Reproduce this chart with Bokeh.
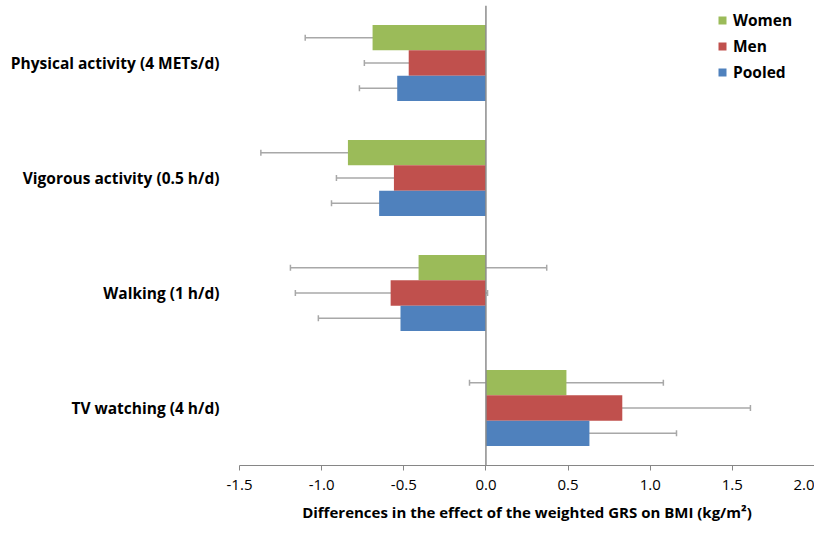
from bokeh.plotting import figure
from bokeh.models import (ColumnDataSource, Range1d, FixedTicker, Span, Whisker,
                          TeeHead, Legend, LegendItem)
from bokeh.embed import file_html
from bokeh.resources import INLINE

categories = ["Physical activity (4 METs/d)", "Vigorous activity (0.5 h/d)",
              "Walking (1 h/d)", "TV watching (4 h/d)"]
series = ["Women", "Men", "Pooled"]
colors = ["#9BBB59", "#C0504D", "#4F81BD"]

women = [-0.69, -0.84, -0.41, 0.49]
women_lo = [-1.10, -1.37, -1.19, -0.10]
women_hi = [-0.28, -0.31, 0.37, 1.08]

men = [-0.47, -0.56, -0.58, 0.83]
men_lo = [-0.74, -0.91, -1.16, 0.05]
men_hi = [-0.19, -0.20, 0.01, 1.61]

pooled = [-0.54, -0.65, -0.52, 0.63]
pooled_lo = [-0.77, -0.94, -1.02, 0.11]
pooled_hi = [-0.31, -0.35, -0.02, 1.16]

x_ticks = [-1.5, -1.0, -0.5, 0.0, 0.5, 1.0, 1.5, 2.0]
x_tick_labels = ["-1.5", "-1.0", "-0.5", "0.0", "0.5", "1.0", "1.5", "2.0"]
x_title = "Differences in the effect of the weighted GRS on BMI (kg/m\u00b2)"

FONT = "Open Sans"
n = len(categories)
centers = [n - 0.5 - i for i in range(n)]  # top category first
offsets = [0.22, 0.0, -0.22]
bar_h = 0.22

p = figure(width=814, height=524, output_backend="svg", toolbar_location=None,
           x_range=Range1d(-1.5, 2.0), y_range=Range1d(0, 4.0),
           min_border_left=239, min_border_right=0, min_border_top=5,
           min_border_bottom=59)
p.outline_line_color = None
p.xgrid.visible = False
p.ygrid.visible = False

vals = [women, men, pooled]
los = [women_lo, men_lo, pooled_lo]
his = [women_hi, men_hi, pooled_hi]

renderers = []
for k in range(3):
    src = ColumnDataSource(dict(y=[c + offsets[k] for c in centers],
                                v=vals[k], lo=los[k], hi=his[k]))
    r = p.hbar(y="y", left=0, right="v", height=bar_h, source=src,
               fill_color=colors[k], line_color=None)
    renderers.append((series[k], r, src))

p.add_layout(Span(location=0, dimension="height", line_color="#8C8C8C",
                  line_width=1.5))

ERR = "#A8A8A8"
for name, r, src in renderers:
    w = Whisker(base="y", lower="lo", upper="hi", dimension="width", source=src,
                line_color=ERR, line_width=1.5,
                lower_head=TeeHead(size=6, line_color=ERR, line_width=1.5),
                upper_head=TeeHead(size=6, line_color=ERR, line_width=1.5))
    p.add_layout(w)

legend = Legend(items=[LegendItem(label=name, renderers=[r]) for name, r, _ in renderers],
                location=(478, 382), padding=0, border_line_color=None,
                background_fill_alpha=0, glyph_width=10, glyph_height=10,
                label_height=20, spacing=4, label_standoff=6,
                label_text_font=FONT, label_text_font_style="bold",
                label_text_font_size="15.5px", label_text_color="#000000")
p.add_layout(legend)

xa = p.xaxis[0]
xa.ticker = FixedTicker(ticks=x_ticks)
xa.major_label_overrides = {t: l for t, l in zip(x_ticks, x_tick_labels)}
xa.axis_line_color = "#868686"
xa.axis_line_width = 1.2
xa.major_tick_line_color = "#868686"
xa.major_tick_out = 5
xa.major_tick_in = 0
xa.minor_tick_line_color = None
xa.major_label_text_font = FONT
xa.major_label_text_font_size = "15px"
xa.major_label_text_color = "#000000"
xa.major_label_standoff = 9
xa.axis_label = x_title
xa.axis_label_text_font = FONT
xa.axis_label_text_font_style = "bold"
xa.axis_label_text_font_size = "15px"
xa.axis_label_text_color = "#000000"
xa.axis_label_standoff = 9

ya = p.yaxis[0]
ya.ticker = FixedTicker(ticks=centers)
ya.major_label_overrides = {c: t for c, t in zip(centers, categories)}
ya.axis_line_color = None
ya.major_tick_line_color = None
ya.minor_tick_line_color = None
ya.major_label_standoff = 14
ya.major_label_text_font = FONT
ya.major_label_text_font_style = "bold"
ya.major_label_text_font_size = "15.5px"
ya.major_label_text_color = "#000000"

open("out.html", "w").write(file_html(p, INLINE))
